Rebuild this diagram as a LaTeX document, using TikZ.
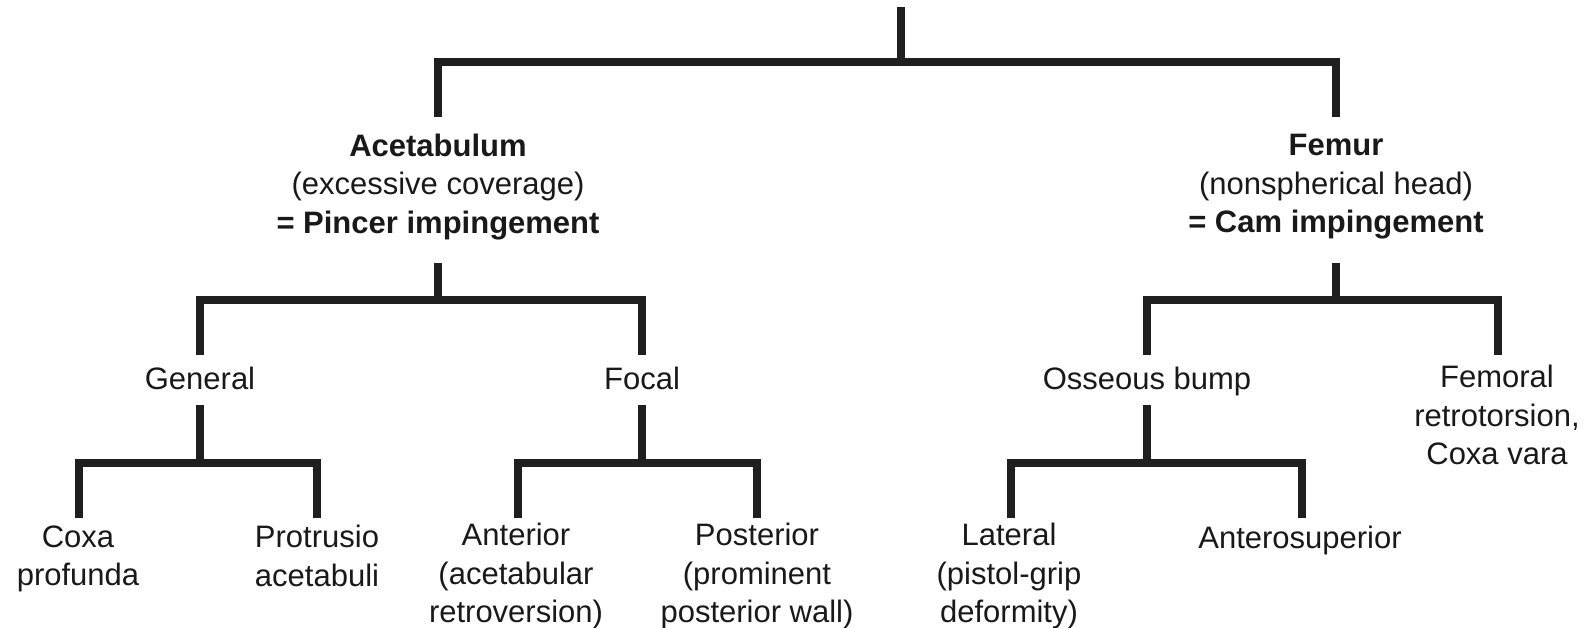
\documentclass[tikz,border=0pt]{standalone}
\usepackage{fontspec}
\setmainfont{Liberation Sans}
\begin{document}
\begin{tikzpicture}[x=1pt,y=-1pt,
  lbl/.style={inner sep=0pt,outer sep=0pt,align=center,font=\fontsize{31}{38.5}\selectfont,text=black!90},
  tree/.style={line width=8.8pt,draw=black!88,line join=miter,line cap=butt},
  stem/.style={line width=7.7pt,draw=black!88,line cap=butt}]
\useasboundingbox (0,0) rectangle (1589,627);
% nodes
\node[lbl] (acet) at (438,187) {\textbf{Acetabulum}\\(excessive coverage)\\\textbf{= Pincer impingement}};
\node[lbl] (fem) at (1336,187) {\textbf{Femur}\\(nonspherical head)\\\textbf{= Cam impingement}};
\node[lbl] (gen) at (200,378) {General};
\node[lbl] (foc) at (642,378) {Focal};
\node[lbl] (oss) at (1147,381) {Osseous bump};
\node[lbl] (femr) at (1497,415) {Femoral\\retrotorsion,\\Coxa vara};
\node[lbl] (coxa) at (78,559) {Coxa\\profunda};
\node[lbl] (prot) at (317,556) {Protrusio\\acetabuli};
\node[lbl] (ant) at (516,576) {Anterior\\(acetabular\\retroversion)};
\node[lbl] (post) at (757,576) {Posterior\\(prominent\\posterior wall)};
\node[lbl] (lat) at (1009,576) {Lateral\\(pistol-grip\\deformity)};
\node[lbl] (antsup) at (1300,540) {Anterosuperior};
% connector end points
\coordinate (root) at (901,7);
\coordinate (jroot) at (901,62);
\coordinate (acet-in) at (438,117);
\coordinate (fem-in) at (1336,117);
\coordinate (acet-out) at (438,263);
\coordinate (jacet) at (438,300);
\coordinate (gen-in) at (200,355);
\coordinate (foc-in) at (642,355);
\coordinate (gen-out) at (200,405);
\coordinate (jgen) at (200,463);
\coordinate (coxa-in) at (79,518);
\coordinate (prot-in) at (317,518);
\coordinate (foc-out) at (642,405);
\coordinate (jfoc) at (642,463);
\coordinate (ant-in) at (518,518);
\coordinate (post-in) at (757,518);
\coordinate (fem-out) at (1336,263);
\coordinate (jfem) at (1336,300);
\coordinate (oss-in) at (1147,355);
\coordinate (femr-in) at (1498,355);
\coordinate (oss-out) at (1147,405);
\coordinate (joss) at (1147,463);
\coordinate (lat-in) at (1011,518);
\coordinate (antsup-in) at (1302,518);
% connectors
\draw[stem] (root) -- (jroot);
\draw[tree] (acet-in) |- (jroot) -| (fem-in);
\draw[tree] (acet-out) -- (jacet);
\draw[tree] (gen-in) |- (jacet) -| (foc-in);
\draw[tree] (gen-out) -- (jgen);
\draw[tree] (coxa-in) |- (jgen) -| (prot-in);
\draw[tree] (foc-out) -- (jfoc);
\draw[tree] (ant-in) |- (jfoc) -| (post-in);
\draw[tree] (fem-out) -- (jfem);
\draw[tree] (oss-in) |- (jfem) -| (femr-in);
\draw[tree] (oss-out) -- (joss);
\draw[tree] (lat-in) |- (joss) -| (antsup-in);
\end{tikzpicture}
\end{document}
